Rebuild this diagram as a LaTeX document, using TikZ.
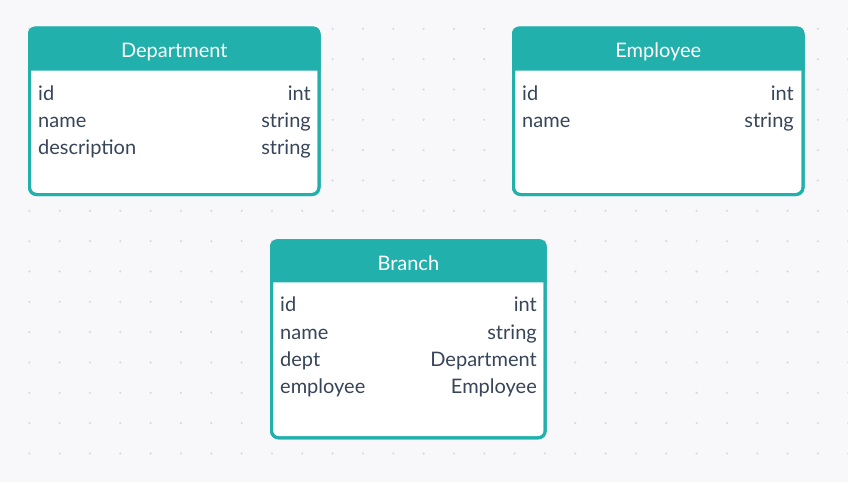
\documentclass[tikz,border=0pt]{standalone}
\usepackage{fontspec}
\setmainfont{Lato}
\definecolor{bgc}{HTML}{F8F8FA}
\definecolor{hdr}{HTML}{21B0AB}
\definecolor{txt}{HTML}{374559}
\definecolor{dotc}{HTML}{D9D9DE}
\begin{document}
\begin{tikzpicture}[x=1pt,y=-1pt,
  tbl/.style={rectangle, draw=hdr, line width=3pt, fill=white, rounded corners=7pt, inner sep=0pt},
  ttl/.style={anchor=base, text=white, inner sep=0pt, font=\fontsize{20}{24}\selectfont},
  fl/.style={anchor=base west, text=txt, inner sep=0pt, font=\fontsize{20}{24}\selectfont},
  fr/.style={anchor=base east, text=txt, inner sep=0pt, font=\fontsize{20}{24}\selectfont}]
\fill[bgc] (0,0) rectangle (848,482);
\useasboundingbox (0,0) rectangle (848,482);
\foreach \i in {1,...,28}{
  \foreach \j in {1,...,15}{
    \fill[dotc] ({30.33*\i-1},{30.33*\j-1.5}) circle (1.2pt);
  }
}
% Department
\node[tbl, minimum width=289.5pt, minimum height=166.5pt] (dept) at (174.25,111.25) {};
\fill[hdr] ([yshift=-44pt]dept.north west) [rounded corners=7pt] -- (dept.north west) -- (dept.north east) [sharp corners] -- ([yshift=-44pt]dept.north east) -- cycle;
\node[tbl, fill=none, minimum width=289.5pt, minimum height=166.5pt] at (dept.center) {};
\node[ttl] (deptT) at (174.25,57) {Department};
\node[fl] (d1a) at (38,100) {id};
\node[fr] (d1b) at (311,100) {int};
\node[fl] (d2a) at (38,127) {name};
\node[fr] (d2b) at (311,127) {string};
\node[fl] (d3a) at (38,154) {description};
\node[fr] (d3b) at (311,154) {string};
% Employee
\node[tbl, minimum width=289.5pt, minimum height=166.5pt] (emp) at (658.25,111.25) {};
\fill[hdr] ([yshift=-44pt]emp.north west) [rounded corners=7pt] -- (emp.north west) -- (emp.north east) [sharp corners] -- ([yshift=-44pt]emp.north east) -- cycle;
\node[tbl, fill=none, minimum width=289.5pt, minimum height=166.5pt] at (emp.center) {};
\node[ttl] (empT) at (658.25,57) {Employee};
\node[fl] (e1a) at (522,100) {id};
\node[fr] (e1b) at (794,100) {int};
\node[fl] (e2a) at (522,127) {name};
\node[fr] (e2b) at (794,127) {string};
% Branch
\node[tbl, minimum width=273.7pt, minimum height=197pt] (br) at (408.35,339.3) {};
\fill[hdr] ([yshift=-43pt]br.north west) [rounded corners=7pt] -- (br.north west) -- (br.north east) [sharp corners] -- ([yshift=-43pt]br.north east) -- cycle;
\node[tbl, fill=none, minimum width=273.7pt, minimum height=197pt] at (br.center) {};
\node[ttl] (brT) at (408.35,270) {Branch};
\node[fl] (b1a) at (280,311.5) {id};
\node[fr] (b1b) at (537,311.5) {int};
\node[fl] (b2a) at (280,339) {name};
\node[fr] (b2b) at (537,339) {string};
\node[fl] (b3a) at (280,366.5) {dept};
\node[fr] (b3b) at (537,366.5) {Department};
\node[fl] (b4a) at (280,393.5) {employee};
\node[fr] (b4b) at (537,393.5) {Employee};
\end{tikzpicture}
\end{document}
